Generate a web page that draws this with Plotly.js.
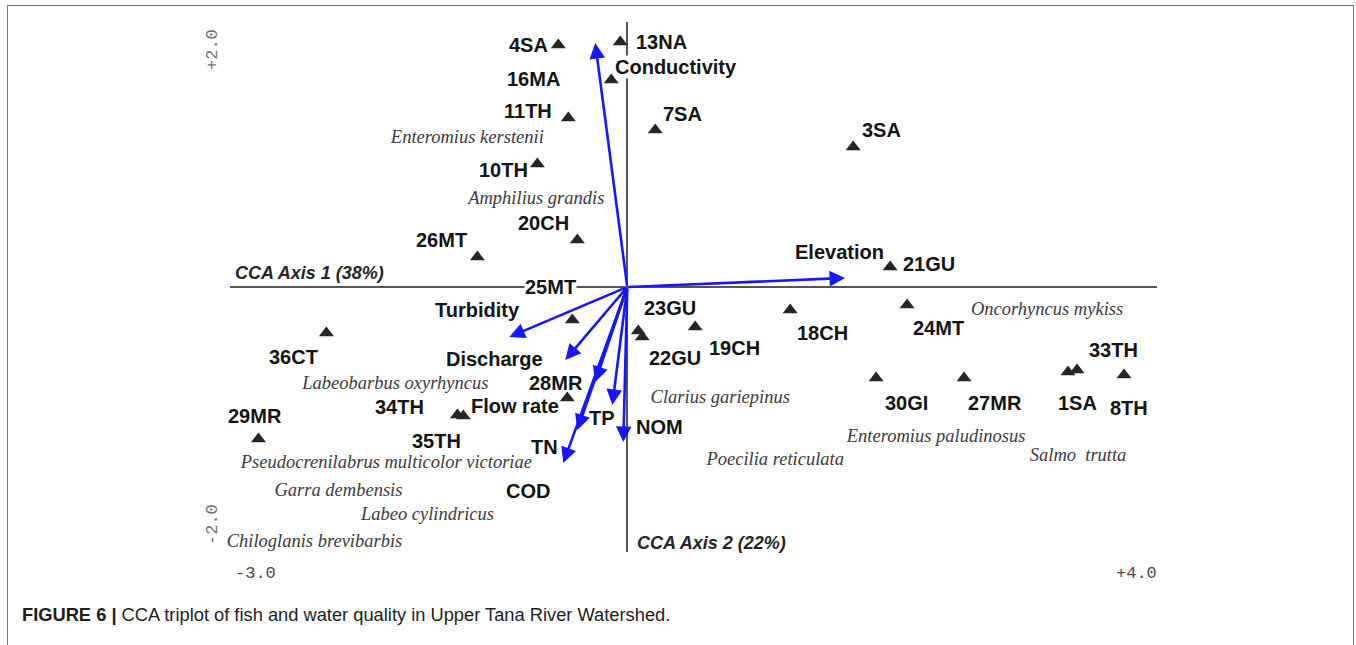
<!DOCTYPE html>
<html>
<head>
<meta charset="utf-8">
<script src="https://cdn.plot.ly/plotly-3.0.1.min.js"></script>
<style>
  html, body { margin: 0; padding: 0; background: #ffffff; overflow: hidden; }
  #wrap { position: relative; width: 1356px; height: 645px; }
  #chart { position: absolute; left: 0; top: 0; width: 1356px; height: 645px; }
  #frame { position: absolute; left: 7px; top: 5px; width: 1345px; height: 700px;
           border: 1px solid #7a7a7a; pointer-events: none; }
</style>
</head>
<body>
<div id="wrap">
  <div id="chart"></div>
  <div id="frame"></div>
</div>
<script>
// ---------------- DATA (CCA scores) ----------------
const siteNames = ["4SA","13NA","16MA","11TH","10TH","7SA","3SA","20CH","26MT","21GU",
                   "25MT","36CT","23GU","22GU","19CH","18CH","24MT","30GI","27MR","1SA",
                   "33TH","8TH","28MR","34TH","35TH","29MR"];
const siteX = [-0.521,-0.053,-0.121,-0.445,-0.679, 0.211, 1.706,-0.377,-1.132, 1.985,
               -0.415,-2.272, 0.083, 0.113, 0.513, 1.230, 2.113, 1.879, 2.543, 3.328,
                3.396, 3.751,-0.453,-1.283,-1.238,-2.785];
const siteY = [ 1.826, 1.849, 1.562, 1.275, 0.928, 1.185, 1.057, 0.355, 0.226, 0.151,
               -0.249,-0.347,-0.332,-0.377,-0.302,-0.174,-0.136,-0.687,-0.687,-0.642,
               -0.626,-0.664,-0.838,-0.966,-0.974,-1.147];

const envNames = ["Conductivity","Elevation","Turbidity","Discharge","Flow rate","TP","COD","NOM","TN"];
const envX = [-0.242, 1.645,-0.891,-0.468,-0.242,-0.113,-0.377,-0.030,-0.483];
const envY = [ 1.842, 0.068,-0.377,-0.551,-0.717,-0.891,-1.079,-1.170,-1.328];

const speciesNames = ["Enteromius kerstenii","Amphilius grandis","Oncorhyncus mykiss",
  "Labeobarbus oxyrhyncus","Clarius gariepinus","Pseudocrenilabrus multicolor victoriae",
  "Enteromius paludinosus","Poecilia reticulata","Salmo  trutta","Garra dembensis",
  "Labeo cylindricus","Chiloglanis brevibarbis"];
const speciesX = [-1.208,-0.687, 3.170,-1.751, 0.702,-1.819, 2.332, 1.117, 3.404,-2.181,-1.509,-2.362];
const speciesY = [ 1.125, 0.664,-0.174,-0.732,-0.838,-1.328,-1.132,-1.306,-1.275,-1.540,-1.721,-1.925];

const axis1Title = "CCA Axis 1 (38%)";
const axis2Title = "CCA Axis 2 (22%)";
const xRange = [-3, 4];
const yRange = [-2, 2];
const cornerTicks = {xmin: "-3.0", xmax: "+4.0", ymin: "-2.0", ymax: "+2.0"};
const caption = "<b>FIGURE 6 |</b> CCA triplot of fish and water quality in Upper Tana River Watershed.";

// ---------------- STYLE (label offsets in pixels, fonts, colours) ----------------
const siteLabelShift = [[-30,0],[41,0],[-78,1],[-40,7],[-34,-6],[27,16],[28,17],[-34,17],[-36,17],[39,3],
                        [-22,33],[-33,-24],[32,23],[33,-21],[39,-21],[32,-23],[31,-23],[30,-25],[31,-25],[9,-31],
                        [36,20],[5,-33],[-11,15],[-58,8],[-27,-25],[-3,23]];
const envLabelShift = [[81,-24],[-6,26],[-32,27],[-71,1],[-80,-24],[-10,-13],[-49,-61],[36,15],[-19,16]];

const labelFont = {family: "Liberation Sans, Arial, sans-serif", size: 20, color: "#141414", weight: "bold"};
const speciesFont = {family: "Liberation Serif, Times New Roman, serif", size: 18.5, color: "#403a40", style: "italic"};
const arrowColor = "#1616ff";

// ---------------- BUILD ----------------
const traces = [
  {
    type: "scatter", mode: "markers",
    x: siteX, y: siteY, text: siteNames, hoverinfo: "text", cliponaxis: false,
    marker: {symbol: "triangle-up", size: 13, color: "#262626", line: {width: 0}}
  },
  {
    type: "scatter", mode: "text", cliponaxis: false,
    x: speciesX, y: speciesY,
    text: speciesNames.map(s => "<i>" + s + "</i>"),
    textposition: "middle center",
    textfont: speciesFont, hoverinfo: "none"
  }
];

const annotations = [];

// environmental arrows (from the origin of the ordination)
envNames.forEach((n, i) => {
  annotations.push({
    x: envX[i], y: envY[i], xref: "x", yref: "y",
    ax: 0, ay: 0, axref: "x", ayref: "y",
    text: "", showarrow: true, arrowhead: 2, arrowsize: 1.2, arrowwidth: 2.6,
    arrowcolor: arrowColor, standoff: 0, startstandoff: 0
  });
});
envNames.forEach((n, i) => {
  annotations.push({
    x: envX[i], y: envY[i], xref: "x", yref: "y",
    xshift: envLabelShift[i][0], yshift: envLabelShift[i][1],
    text: n, showarrow: false, font: labelFont,
    bgcolor: n === "Conductivity" ? "#ffffff" : "rgba(0,0,0,0)", borderpad: 0,
    xanchor: "center", yanchor: "middle"
  });
});
siteNames.forEach((n, i) => {
  annotations.push({
    x: siteX[i], y: siteY[i], xref: "x", yref: "y",
    xshift: siteLabelShift[i][0], yshift: siteLabelShift[i][1],
    text: n, showarrow: false, font: labelFont,
    bgcolor: n === "25MT" ? "#ffffff" : "rgba(0,0,0,0)", borderpad: 0,
    xanchor: "center", yanchor: "middle"
  });
});

// axis titles
annotations.push({
  x: xRange[0], y: 0.106, xref: "x", yref: "y", xshift: 3,
  text: "<b><i>" + axis1Title + "</i></b>", showarrow: false,
  font: {family: "Liberation Sans, Arial, sans-serif", size: 18, color: "#262626"},
  xanchor: "left", yanchor: "middle"
});
annotations.push({
  x: 0, y: yRange[0], xref: "x", yref: "y", xshift: 8, yshift: 9,
  text: "<b><i>" + axis2Title + "</i></b>", showarrow: false,
  font: {family: "Liberation Sans, Arial, sans-serif", size: 18, color: "#262626"},
  xanchor: "left", yanchor: "middle"
});

// corner range labels
const monoFont = {family: "Liberation Mono, DejaVu Sans Mono, monospace", size: 17, color: "#4a4a4a"};
const monoFontLight = {family: "Liberation Mono, DejaVu Sans Mono, monospace", size: 17, color: "#7a6a70"};
annotations.push({x: xRange[0], y: yRange[0], xref: "x", yref: "y", xshift: 25, yshift: -21,
  text: cornerTicks.xmin, showarrow: false, font: monoFont, xanchor: "center", yanchor: "middle"});
annotations.push({x: xRange[1], y: yRange[0], xref: "x", yref: "y", xshift: -21, yshift: -21,
  text: cornerTicks.xmax, showarrow: false, font: monoFont, xanchor: "center", yanchor: "middle"});
annotations.push({x: xRange[0], y: yRange[1], xref: "x", yref: "y", xshift: -18, yshift: -28,
  text: cornerTicks.ymax, textangle: -90, showarrow: false, font: monoFontLight, xanchor: "center", yanchor: "middle"});
annotations.push({x: xRange[0], y: yRange[0], xref: "x", yref: "y", xshift: -18, yshift: 27,
  text: cornerTicks.ymin, textangle: -90, showarrow: false, font: monoFontLight, xanchor: "center", yanchor: "middle"});

// caption
annotations.push({
  x: -0.2265, y: -0.117, xref: "paper", yref: "paper",
  text: caption, showarrow: false,
  font: {family: "Liberation Sans, Arial, sans-serif", size: 18.3, color: "#1e1e1e"},
  xanchor: "left", yanchor: "middle"
});

const axisCommon = {
  showgrid: false, showticklabels: false, ticks: "", showline: false,
  zeroline: true, zerolinecolor: "#555555", zerolinewidth: 2, fixedrange: true
};

const layout = {
  width: 1356, height: 645,
  margin: {l: 230, r: 199, t: 22, b: 93},
  paper_bgcolor: "#ffffff", plot_bgcolor: "#ffffff",
  showlegend: false,
  xaxis: Object.assign({range: xRange}, axisCommon),
  yaxis: Object.assign({range: yRange}, axisCommon),
  annotations: annotations,
  hovermode: false
};

Plotly.newPlot("chart", traces, layout, {displayModeBar: false, staticPlot: true});
</script>
</body>
</html>
